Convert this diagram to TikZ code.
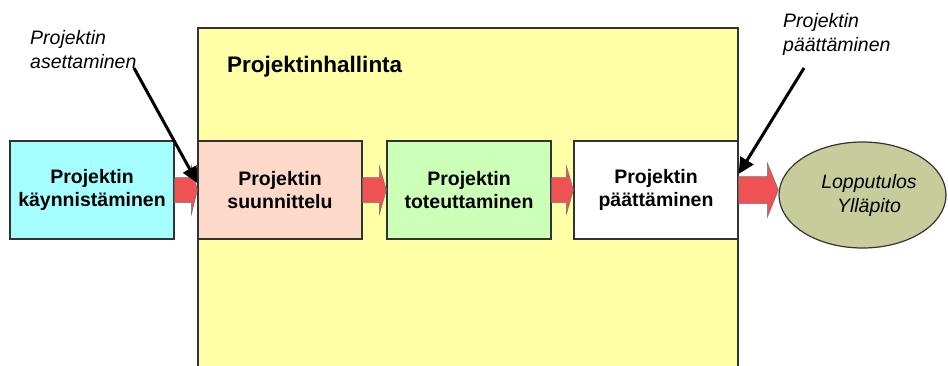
\documentclass[tikz,border=0pt]{standalone}
\usepackage{fontspec}
\setmainfont{Liberation Sans}
\usetikzlibrary{calc,arrows.meta,shapes.geometric}

\definecolor{startcol}{HTML}{A6FFFF}
\definecolor{plancol}{HTML}{FCD9C9}
\definecolor{execcol}{HTML}{CCFFB8}
\definecolor{mgmtcol}{HTML}{FFFFA6}
\definecolor{resultcol}{HTML}{C8CC9A}
\definecolor{flowcol}{HTML}{EE5252}
\definecolor{edgecol}{HTML}{333333}

\tikzset{
  phase/.style={rectangle, draw=edgecol, line width=1.2pt, minimum width=164pt,
    minimum height=98pt, inner sep=0pt, align=center,
    font=\bfseries\fontsize{19.5}{23}\selectfont},
  result/.style={ellipse, draw=edgecol, line width=1.2pt, fill=resultcol,
    minimum width=167pt, minimum height=106pt, inner sep=0pt},
  note/.style={inner sep=0pt, align=left, font=\itshape\fontsize{19.5}{24}\selectfont},
  flow/.style={fill=flowcol, draw=black!55, line width=0.5pt, line join=miter},
  pointer/.style={draw=black, line width=3pt, -{Triangle[length=16pt,width=15pt]}},
}

% block arrow between two shapes: from, to, shaft half width, head half width, head length
\newcommand{\flowarrow}[5]{%
  \path (#1.east) coordinate (fa) (#2.west |- #1.east) coordinate (fb);
  \filldraw[flow] ($(fa)+(0,-#3)$) -- ($(fb)+(-#5,-#3)$) -- ($(fb)+(-#5,-#4)$)
    -- (fb) -- ($(fb)+(-#5,#4)$) -- ($(fb)+(-#5,#3)$) -- ($(fa)+(0,#3)$) -- cycle;
}

\begin{document}
\begin{tikzpicture}[x=1pt,y=-1pt]
\useasboundingbox (0,0) rectangle (948,365);

% project management frame (open at the bottom)
\fill[mgmtcol] (198,28) rectangle (738,366);
\draw[edgecol, line width=1.2pt] (198,366) |- (738,28) -- (738,366);
\node[anchor=base west, inner sep=0pt, font=\bfseries\fontsize{22.5}{26}\selectfont]
  (mgmt) at (227,72) {Projektinhallinta};

% phases
\node[phase, fill=startcol] (start) at (92,190) {Projektin\\käynnistäminen};
\node[phase, fill=plancol] (plan) at (280,190) {Projektin\\suunnittelu};
\node[phase, fill=execcol] (exec) at (469,190) {Projektin\\toteuttaminen};
\node[phase, fill=white] (close) at (656,190) {Projektin\\päättäminen};
\node[result] (res) at (862.5,195) {};
\node[align=center, inner sep=0pt, font=\itshape\fontsize{19.5}{24}\selectfont]
  (restext) at (869,195) {Lopputulos\\Ylläpito};

% flow arrows
\flowarrow{start}{plan}{12.5}{24.5}{6}
\flowarrow{plan}{exec}{12.5}{24}{7}
\flowarrow{exec}{close}{12.5}{24}{7}
\flowarrow{close}{res}{13.5}{27}{11}

% milestone notes
\node[note, anchor=north west] (setnote) at (30,30) {Projektin\\asettaminen};
\node[note, anchor=north west] (endnote) at (783,13) {Projektin\\päättäminen};
\coordinate (setfrom) at (134,68);
\coordinate (endfrom) at (804,68);
\draw[pointer] (setfrom) -- ([yshift=7pt]plan.west);
\draw[pointer] (endfrom) -- ([yshift=16pt]close.east);
\end{tikzpicture}
\end{document}
